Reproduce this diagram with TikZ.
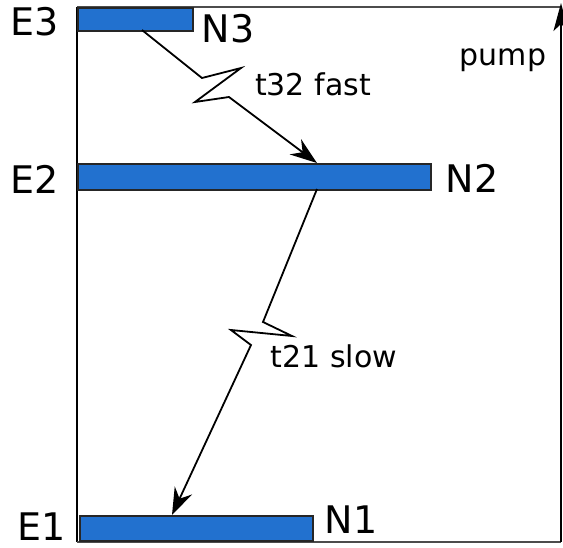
\documentclass[tikz,border=0pt]{standalone}
\usepackage{fontspec}
\setmainfont{DejaVu Sans}
\usetikzlibrary{arrows.meta}
\definecolor{barblue}{RGB}{34,113,207}
\begin{document}
\begin{tikzpicture}[x=1pt,y=-1pt,
  level/.style={draw=black!85, line width=1.5pt, fill=barblue, inner sep=0pt, anchor=north west},
  big/.style={font=\fontsize{38}{40}\selectfont, inner sep=0pt, anchor=base},
  small/.style={font=\fontsize{30}{32}\selectfont, inner sep=0pt, anchor=base},
  trans/.style={line width=1.8pt, -{Stealth[length=27pt,width=19pt,inset=9pt]}},
  pumparrow/.style={line width=1.8pt, -{Stealth[length=28pt,width=15pt,inset=7pt]}},
  frameline/.style={line width=1.5pt, draw=black!70}]
\useasboundingbox (0,0) rectangle (563,547);
% frame
\draw[frameline] (561,7) -- (77,7);
\draw[line width=1.2pt, black] (77,7) -- (77,542);
\draw[frameline] (77,542) -- (561,542);
% levels
\node[level, minimum width=115pt, minimum height=23pt] (e3bar) at (77,7) {};
\node[level, minimum width=353pt, minimum height=26pt] (e2bar) at (77,163) {};
\node[level, minimum width=233pt, minimum height=25pt] (e1bar) at (79,515) {};
% labels
\node[big] (e3) at (35,35) {E3};
\node[big] (n3) at (228,42) {N3};
\node[big] (e2) at (35,193) {E2};
\node[big] (n2) at (472,192) {N2};
\node[big] (e1) at (42,540) {E1};
\node[big] (n1) at (351,533) {N1};
\node[small] (lt32) at (313,95) {t32 fast};
\node[small] (lt21) at (334,367) {t21 slow};
\node[small] (lpump) at (503,65) {pump};
% transitions
\coordinate (t32s) at (142,30);
\coordinate (t32e) at (317,163);
\coordinate (t21s) at (317,189);
\coordinate (t21e) at (172,515);
\draw[trans] (t32s) -- (202,78) -- (241,68) -- (195,102) -- (229,97) -- (t32e);
\draw[trans] (t21s) -- (263,322) -- (292,336) -- (231,330) -- (251,345) -- (t21e);
% pump
\coordinate (pbot) at (561,542);
\coordinate (ptop) at (561,3);
\draw[pumparrow] (pbot) -- (ptop);
\end{tikzpicture}
\end{document}
